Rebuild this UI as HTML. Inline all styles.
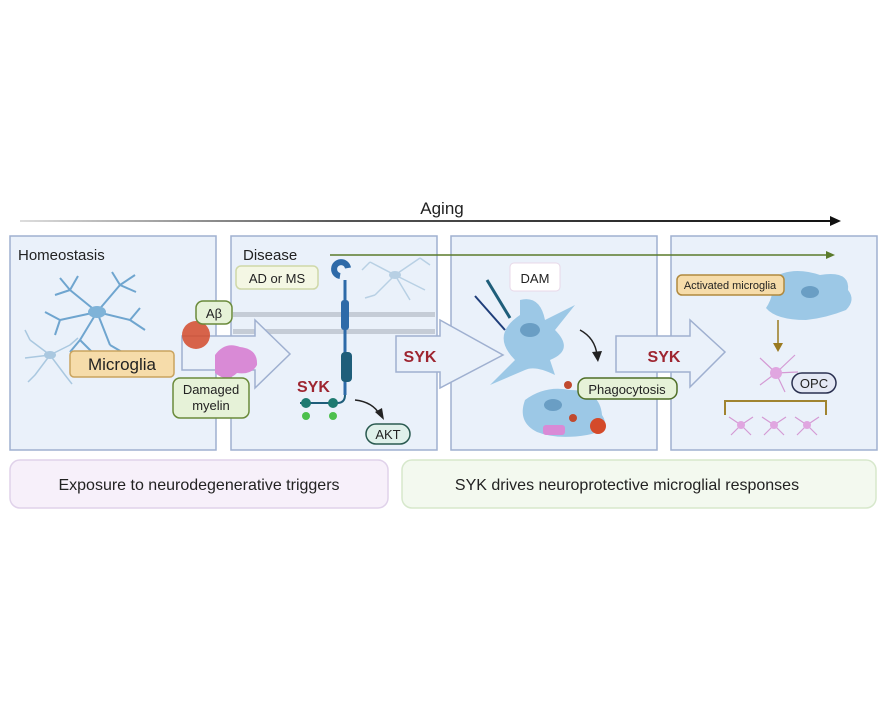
<!DOCTYPE html>
<html><head><meta charset="utf-8"><style>
html,body{margin:0;padding:0;background:#fff}
svg{display:block;font-family:"Liberation Sans",sans-serif}
</style></head><body>
<svg width="888" height="703" viewBox="0 0 888 703">
<defs>
<linearGradient id="ag" x1="0" x2="1"><stop offset="0" stop-color="#ddd"/><stop offset="0.4" stop-color="#555"/><stop offset="1" stop-color="#111"/></linearGradient>
</defs>
<text x="442" y="214" font-size="17" text-anchor="middle" fill="#222">Aging</text>
<rect x="20" y="220" width="812" height="2" fill="url(#ag)"/>
<polygon points="830,216 841,221 830,226" fill="#111"/>
<g fill="#eaf1fa" stroke="#9fb0d0" stroke-width="1.5">
<rect x="10" y="236" width="206" height="214"/>
<rect x="231" y="236" width="206" height="214"/>
<rect x="451" y="236" width="206" height="214"/>
<rect x="671" y="236" width="206" height="214"/>
</g>
<line x1="330" y1="255" x2="828" y2="255" stroke="#5a7a2a" stroke-width="1.5"/>
<polygon points="826,251 835,255 826,259" fill="#5a7a2a"/>
<rect x="233" y="312" width="202" height="5" fill="#c5ccd6"/>
<rect x="233" y="329" width="202" height="5" fill="#c5ccd6"/>
<g fill="#eaf1fa" stroke="#9fb0d0" stroke-width="1.5">
<polygon points="182,336 255,336 255,320 290,354 255,388 255,370 182,370"/>
<polygon points="396,336 440,336 440,320 503,355 440,388 440,372 396,372"/>
<polygon points="616,336 690,336 690,320 725,352 690,387 690,372 616,372"/>
</g>
<g stroke="#6fa5cf" stroke-width="2" fill="none">
<path d="M97 312 L70 290 M97 312 L120 285 M97 312 L130 320 M97 312 L80 340 M97 312 L110 345 M97 312 L60 320 M70 290 L60 278 M120 285 L135 275 M130 320 L145 330 M80 340 L70 352 M60 320 L45 312 M70 290 L78 276 M120 285 L112 272 M130 320 L140 308 M110 345 L122 352 M60 320 L55 335 M80 340 L92 352 M120 285 L136 292 M70 290 L55 295"/>
</g>
<ellipse cx="97" cy="312" rx="9" ry="6" fill="#7fb3d8"/>
<g stroke="#aac8e0" stroke-width="1.5" fill="none"><path d="M50 355 L30 340 M50 355 L70 345 M50 355 L35 375 M50 355 L65 375 M50 355 L25 358 M30 340 L25 330 M35 375 L28 382 M65 375 L72 384 M70 345 L78 338"/></g>
<ellipse cx="50" cy="355" rx="6" ry="4" fill="#aac8e0"/>
<text x="18" y="260" font-size="15" fill="#222">Homeostasis</text>
<rect x="70" y="351" width="104" height="26" rx="4" fill="#f6dcaa" stroke="#c9a35e" stroke-width="1.5"/>
<text x="122" y="370" font-size="17" text-anchor="middle" fill="#222">Microglia</text>
<circle cx="196" cy="335" r="14" fill="#d44a2a" opacity="0.85"/>
<rect x="196" y="301" width="36" height="23" rx="7" fill="#e6f2d8" stroke="#6a8a3a" stroke-width="1.5"/>
<text x="214" y="318" font-size="13" text-anchor="middle" fill="#222">Aβ</text>
<path d="M215 355 q10-14 25-8 q18 2 17 18 q-5 10-20 8 q-10 10-22 0z" fill="#d98ad6"/>
<rect x="173" y="378" width="76" height="40" rx="7" fill="#e6f2d8" stroke="#6a8a3a" stroke-width="1.5"/>
<text x="211" y="394" font-size="13" text-anchor="middle" fill="#222">Damaged</text>
<text x="211" y="410" font-size="13" text-anchor="middle" fill="#222">myelin</text>
<text x="243" y="260" font-size="15" fill="#222">Disease</text>
<rect x="236" y="266" width="82" height="23" rx="5" fill="#f4f7e4" stroke="#cfd8a8" stroke-width="1.5"/>
<text x="277" y="283" font-size="13" text-anchor="middle" fill="#222">AD or MS</text>
<g stroke="#b8d0e4" stroke-width="1.5" fill="none"><path d="M395 275 L370 262 M395 275 L420 258 M395 275 L425 290 M395 275 L375 295 M395 275 L410 300 M370 262 L362 270 M420 258 L430 265 M375 295 L365 298"/></g>
<ellipse cx="395" cy="275" rx="6" ry="4" fill="#b8d0e4"/>
<path d="M340 276 a7 7 0 1 1 8 -8" stroke="#2e6aa8" stroke-width="6" fill="none"/>
<line x1="345" y1="280" x2="345" y2="395" stroke="#2e6aa8" stroke-width="3"/>
<rect x="341" y="300" width="8" height="30" rx="3" fill="#2e6aa8"/>
<rect x="341" y="352" width="11" height="30" rx="4" fill="#1f5e7a"/>
<path d="M345 395 q0 8 -8 8 L300 403" stroke="#1f5e7a" stroke-width="2" fill="none"/>
<circle cx="306" cy="403" r="5" fill="#1e7a70"/><circle cx="333" cy="403" r="5" fill="#1e7a70"/>
<circle cx="306" cy="416" r="4" fill="#4cc04c"/><circle cx="333" cy="416" r="4" fill="#4cc04c"/>
<text x="297" y="392" font-size="16" font-weight="bold" fill="#9e2530">SYK</text>
<path d="M355 400 q18 2 25 15" stroke="#222" stroke-width="1.5" fill="none"/>
<polygon points="375,412 384,420 382,408" fill="#222"/>
<rect x="366" y="424" width="44" height="20" rx="10" fill="#dff0ea" stroke="#2a5a50" stroke-width="1.5"/>
<text x="388" y="439" font-size="13" text-anchor="middle" fill="#222">AKT</text>
<text x="420" y="362" font-size="16" font-weight="bold" fill="#9e2530" text-anchor="middle">SYK</text>
<path d="M520 300 q20-5 25 20 l30 -15 l-20 25 q20 20 -5 30 l5 15 q-20 -10 -30 -5 l-35 15 l25 -25 q-25 -25 5 -45z" fill="#9cc8e6"/>
<ellipse cx="530" cy="330" rx="10" ry="7" fill="#6a9ec4"/>
<line x1="487" y1="280" x2="510" y2="318" stroke="#1f5e7a" stroke-width="3"/>
<line x1="475" y1="296" x2="505" y2="330" stroke="#1f3e7a" stroke-width="2"/>
<rect x="510" y="263" width="50" height="28" rx="4" fill="#fff" stroke="#e8d8e8"/>
<text x="535" y="283" font-size="13" text-anchor="middle" fill="#222">DAM</text>
<path d="M580 330 q15 8 17 25" stroke="#222" stroke-width="1.5" fill="none"/>
<polygon points="592,352 598,362 602,351" fill="#222"/>
<path d="M525 400 q20-15 45-10 q30 0 32 25 q10 15 -15 20 q-30 5 -50 -3 q-20 -10 -12 -32z" fill="#9cc8e6"/>
<ellipse cx="553" cy="405" rx="9" ry="6" fill="#6a9ec4"/>
<circle cx="568" cy="385" r="4" fill="#c0492e"/><circle cx="573" cy="418" r="4" fill="#c0492e"/>
<circle cx="598" cy="426" r="8" fill="#d44a2a"/>
<rect x="543" y="425" width="22" height="10" rx="3" fill="#d98ad6"/>
<rect x="578" y="378" width="99" height="21" rx="8" fill="#e6f2d8" stroke="#4e6e26" stroke-width="1.5"/>
<text x="627" y="394" font-size="13" text-anchor="middle" fill="#222">Phagocytosis</text>
<text x="664" y="362" font-size="16" font-weight="bold" fill="#9e2530" text-anchor="middle">SYK</text>
<path d="M770 280 q20-15 50-5 q30 -5 28 15 q8 10 -2 20 q-20 8 -40 10 q-30 0 -40 -12 q10 -15 4 -28z" fill="#9cc8e6"/>
<ellipse cx="810" cy="292" rx="9" ry="6" fill="#6a9ec4"/>
<rect x="677" y="275" width="107" height="20" rx="5" fill="#f6dcaa" stroke="#b0893e" stroke-width="1.5"/>
<text x="730" y="289" font-size="11" text-anchor="middle" fill="#222">Activated microglia</text>
<line x1="778" y1="320" x2="778" y2="345" stroke="#9a7a20" stroke-width="1.5"/>
<polygon points="773,343 778,352 783,343" fill="#9a7a20"/>
<g stroke="#d49ad4" stroke-width="1.2" fill="none"><path d="M776 373 L760 358 M776 373 L795 355 M776 373 L760 385 M776 373 L785 392 M776 373 L798 372"/></g>
<circle cx="776" cy="373" r="6" fill="#e0a6e0"/>
<rect x="792" y="373" width="44" height="20" rx="10" fill="#e4e8f4" stroke="#2a3050" stroke-width="1.5"/>
<text x="814" y="388" font-size="13" text-anchor="middle" fill="#222">OPC</text>
<path d="M725 415 V401 H826 V415" stroke="#a08430" stroke-width="2" fill="none"/>
<g stroke="#d49ad4" stroke-width="1.2" fill="none">
<path d="M741 425 l-12 -8 M741 425 l12 -8 M741 425 l-10 10 M741 425 l10 10 M774 425 l-12 -8 M774 425 l12 -8 M774 425 l-10 10 M774 425 l10 10 M807 425 l-12 -8 M807 425 l12 -8 M807 425 l-10 10 M807 425 l10 10"/></g>
<circle cx="741" cy="425" r="4" fill="#e0a6e0"/><circle cx="774" cy="425" r="4" fill="#e0a6e0"/><circle cx="807" cy="425" r="4" fill="#e0a6e0"/>
<rect x="10" y="460" width="378" height="48" rx="10" fill="#f7f0fa" stroke="#e0d2ea" stroke-width="1.5"/>
<text x="199" y="490" font-size="16" text-anchor="middle" fill="#222">Exposure to neurodegenerative triggers</text>
<rect x="402" y="460" width="474" height="48" rx="10" fill="#f3f9ef" stroke="#d7e8cc" stroke-width="1.5"/>
<text x="627" y="490" font-size="16" text-anchor="middle" fill="#222">SYK drives neuroprotective microglial responses</text>
</svg>
</body></html>
